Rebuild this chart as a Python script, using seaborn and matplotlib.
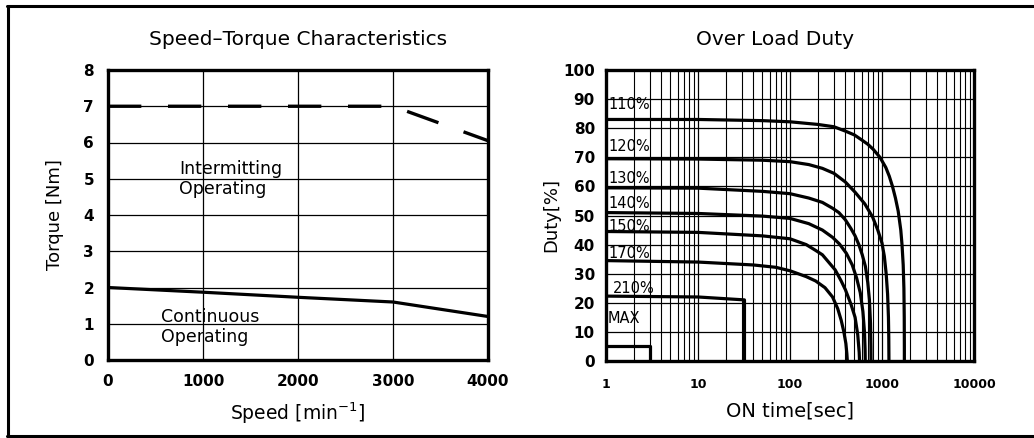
import numpy as np
import pandas as pd
import matplotlib
matplotlib.use("Agg")
import matplotlib.pyplot as plt
import seaborn as sns
from matplotlib.lines import Line2D
from matplotlib.ticker import FixedLocator, FixedFormatter, LogLocator, NullFormatter

# ---------------- data: Speed-Torque ----------------
speed_intermit = [0, 3000, 4000]
torque_intermit = [7.0, 7.0, 6.05]
speed_cont = [0, 1000, 2000, 3000, 4000]
torque_cont = [2.0, 1.87, 1.73, 1.6, 1.2]
speed_ticks = [0, 1000, 2000, 3000, 4000]
torque_ticks = [0, 1, 2, 3, 4, 5, 6, 7, 8]

# ---------------- data: Over Load Duty ----------------
t_110 = [1, 10, 50, 100, 200, 300, 400, 500, 600, 700, 800, 950, 1100, 1200,
         1300, 1400, 1500, 1600, 1650, 1700, 1730, 1745, 1750, 1750]
d_110 = [83, 83, 82.6, 82.2, 81.3, 80.5, 79, 77.7, 76, 74.5, 72.8, 70, 66.5,
         63.5, 60, 56, 51.5, 45, 40, 33, 25, 15, 5, 0]
t_120 = [1, 10, 50, 100, 160, 225, 300, 400, 510, 650, 790, 900, 1000, 1060,
         1110, 1150, 1175, 1185, 1190]
d_120 = [69.5, 69.4, 69, 68.5, 67.5, 66.2, 64.5, 61.5, 58, 54, 49.5, 45, 40.5,
         36, 30, 23, 15, 8, 0]
t_130 = [1, 10, 50, 100, 160, 225, 290, 340, 400, 460, 510, 560, 610, 660,
         700, 730, 750, 758, 760]
d_130 = [59.5, 59.4, 58.3, 57.5, 56, 54.5, 52.5, 51, 48.5, 45.5, 43, 40, 36.5,
         32.5, 27, 21, 13, 5, 0]
t_140 = [1, 10, 50, 100, 160, 225, 290, 345, 410, 475, 530, 580, 620, 645,
         655, 658]
d_140 = [51, 50.7, 49.8, 49, 47.2, 45, 42.5, 40.2, 37, 33, 28.5, 23.5, 17, 10,
         4, 0]
t_150 = [1, 10, 50, 100, 150, 190, 225, 310, 360, 400, 460, 510, 545, 565, 570]
d_150 = [44.5, 44.2, 43, 42, 40, 38, 36.5, 31.3, 27.5, 24.5, 19.5, 15, 9, 3, 0]
t_170 = [1, 10, 40, 70, 100, 150, 190, 240, 290, 330, 360, 385, 405, 415, 420]
d_170 = [34.5, 34, 33, 32.2, 31, 29, 27.5, 25.2, 22, 18, 14, 10, 6, 2.5, 0]
t_210 = [1, 10, 32, 32]
d_210 = [22.3, 22, 21, 0]
t_max = [1, 3, 3]
d_max = [5, 5, 0]
duty_labels = ["110%", "120%", "130%", "140%", "150%", "170%", "210%", "MAX"]
label_x = [1.05, 1.05, 1.05, 1.05, 1.05, 1.05, 1.2, 1.05]
label_y = [88, 73.6, 62.8, 54.2, 46.2, 37, 25, 14.7]
time_ticks = [1, 10, 100, 1000, 10000]
time_ticklabels = ["1", "10", "100", "1000", "10000"]
duty_ticks = [0, 10, 20, 30, 40, 50, 60, 70, 80, 90, 100]

sns.set_style("white")
plt.rcParams["font.family"] = ["DejaVu Sans"]
plt.rcParams["text.color"] = "black"
plt.rcParams["axes.labelcolor"] = "black"
plt.rcParams["xtick.color"] = "black"
plt.rcParams["ytick.color"] = "black"

fig = plt.figure(figsize=(10.34, 4.38), dpi=100)
W, H = 1034, 438

def add_ax(x0, y0, x1, y1):
    return fig.add_axes([x0 / W, 1 - y1 / H, (x1 - x0) / W, (y1 - y0) / H])

# ---------------- left chart ----------------
ax1 = add_ax(108, 70, 488, 360)
df_i = pd.DataFrame({"speed": speed_intermit, "torque": torque_intermit})
df_c = pd.DataFrame({"speed": speed_cont, "torque": torque_cont})
sns.lineplot(data=df_i, x="speed", y="torque", ax=ax1, color="black",
             linewidth=2.4, dashes=[(10, 8)], style=[0] * len(df_i), legend=False)
sns.lineplot(data=df_c, x="speed", y="torque", ax=ax1, color="black",
             linewidth=2.3, legend=False)
ax1.set_xlim(0, 4000)
ax1.set_ylim(0, 8)
ax1.xaxis.set_major_locator(FixedLocator(speed_ticks))
ax1.yaxis.set_major_locator(FixedLocator(torque_ticks))
ax1.grid(True, color="black", linewidth=0.9)
ax1.set_axisbelow(True)
for s in ax1.spines.values():
    s.set_linewidth(2.4)
    s.set_color("black")
ax1.tick_params(length=0, pad=10, labelsize=11, colors="black")
for lab in ax1.get_xticklabels() + ax1.get_yticklabels():
    lab.set_fontweight("bold")
ax1.set_xlabel("Speed [min$^{-1}$]", fontsize=13.5, labelpad=8, color="black")
ax1.set_ylabel("Torque [Nm]", fontsize=13, labelpad=14, color="black")
ax1.set_title("Speed\u2013Torque Characteristics", fontsize=14.5, pad=18,
              color="black")
ax1.text(750, 5.0, "Intermitting\nOperating", fontsize=12.5, va="center",
         ha="left", linespacing=1.15, color="black")
ax1.text(560, 0.92, "Continuous\nOperating", fontsize=12.5, va="center",
         ha="left", linespacing=1.15, color="black")

# ---------------- right chart ----------------
ax2 = add_ax(606, 70, 974, 361)
series = [("110", t_110, d_110), ("120", t_120, d_120), ("130", t_130, d_130),
          ("140", t_140, d_140), ("150", t_150, d_150), ("170", t_170, d_170),
          ("210", t_210, d_210), ("MAX", t_max, d_max)]
frames = []
for name, t, d in series:
    frames.append(pd.DataFrame({"time": t, "duty": d, "load": name}))
df_d = pd.concat(frames, ignore_index=True)
sns.lineplot(data=df_d, x="time", y="duty", units="load", estimator=None,
             sort=False, ax=ax2, color="black", linewidth=2.3, legend=False)
ax2.set_xscale("log")
ax2.set_xlim(1, 10000)
ax2.set_ylim(0, 100)
ax2.xaxis.set_major_locator(FixedLocator(time_ticks))
ax2.xaxis.set_major_formatter(FixedFormatter(time_ticklabels))
ax2.xaxis.set_minor_locator(LogLocator(base=10, subs=np.arange(2, 10)))
ax2.xaxis.set_minor_formatter(NullFormatter())
ax2.yaxis.set_major_locator(FixedLocator(duty_ticks))
ax2.grid(True, which="major", color="black", linewidth=0.9)
ax2.grid(True, which="minor", axis="x", color="black", linewidth=0.8)
ax2.set_axisbelow(True)
for s in ax2.spines.values():
    s.set_linewidth(2.4)
    s.set_color("black")
ax2.tick_params(which="both", length=0, colors="black")
ax2.tick_params(axis="y", pad=8, labelsize=11)
ax2.tick_params(axis="x", pad=12, labelsize=9)
for lab in ax2.get_xticklabels() + ax2.get_yticklabels():
    lab.set_fontweight("bold")
ax2.set_xlabel("ON time[sec]", fontsize=14, labelpad=8, color="black")
ax2.set_ylabel("Duty[%]", fontsize=13, labelpad=2, color="black")
ax2.set_title("Over Load Duty", fontsize=14.5, pad=18, x=0.46, color="black")
for lab, lx, ly in zip(duty_labels, label_x, label_y):
    ax2.text(lx, ly, lab, fontsize=10.5, va="center", ha="left", color="black")

# ---------------- frame ----------------
fig.add_artist(Line2D([7 / W, 1.0], [1 - 6 / H, 1 - 6 / H], color="black",
                      linewidth=2.2, transform=fig.transFigure))
fig.add_artist(Line2D([7 / W, 1.0], [1 - 436 / H, 1 - 436 / H], color="black",
                      linewidth=2.2, transform=fig.transFigure))
fig.add_artist(Line2D([8 / W, 8 / W], [1 - 6 / H, 1 - 436 / H], color="black",
                      linewidth=2.2, transform=fig.transFigure))

fig.savefig("out.png", dpi=100, facecolor="white")
